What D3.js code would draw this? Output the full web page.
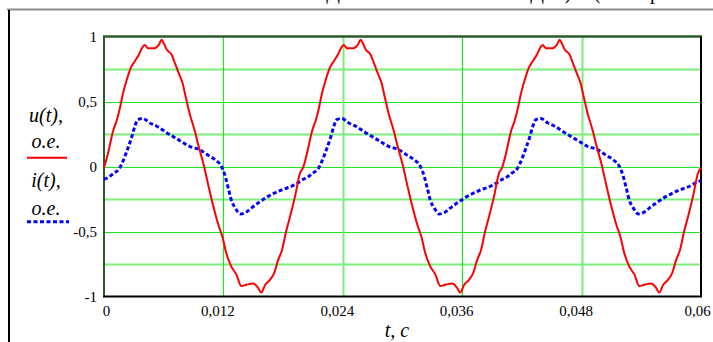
<!DOCTYPE html>
<html><head><meta charset="utf-8">
<script src="https://cdn.jsdelivr.net/npm/d3@7"></script>
<style>
html,body{margin:0;padding:0;background:#fff;}
svg{display:block;}
text{font-family:"Liberation Serif","Times New Roman",serif;fill:#000;}
</style></head>
<body>
<svg id="chart" width="713" height="342"></svg>
<script>
// ---- data ----
const tU = [
0.0000,0.0004,0.0009,0.0013,0.0016,0.0019,0.0023,0.0027,0.0031,0.0035,0.0039,0.0041,0.0044,0.0051,0.0055,0.0058,0.0060,0.0063,0.0068,0.0071,0.0075,0.0079,0.0082,0.0086,0.0091,0.0096,0.0100,0.0105,0.0110,0.0115,0.0119,0.0123,0.0128,0.0133,0.0138,0.0143,0.0150,0.0155,0.0158,0.0162,0.0167,0.0171,0.0175,0.0179,0.0183,0.0187,0.0192,0.0197,
0.0200,0.0204,0.0209,0.0213,0.0216,0.0219,0.0223,0.0227,0.0231,0.0235,0.0239,0.0241,0.0244,0.0251,0.0255,0.0258,0.0260,0.0263,0.0268,0.0271,0.0275,0.0279,0.0282,0.0286,0.0291,0.0296,0.0300,0.0305,0.0310,0.0315,0.0319,0.0323,0.0328,0.0333,0.0338,0.0343,0.0350,0.0355,0.0358,0.0362,0.0367,0.0371,0.0375,0.0379,0.0383,0.0387,0.0392,0.0397,
0.0400,0.0404,0.0409,0.0413,0.0416,0.0419,0.0423,0.0427,0.0431,0.0435,0.0439,0.0441,0.0444,0.0451,0.0455,0.0458,0.0460,0.0463,0.0468,0.0471,0.0475,0.0479,0.0482,0.0486,0.0491,0.0496,0.0500,0.0505,0.0510,0.0515,0.0519,0.0523,0.0528,0.0533,0.0538,0.0543,0.0550,0.0555,0.0558,0.0562,0.0567,0.0571,0.0575,0.0579,0.0583,0.0587,0.0592,0.0597,0.0600];
const uVals = [
-0.01,0.10,0.27,0.36,0.45,0.56,0.67,0.76,0.81,0.86,0.92,0.935,0.91,0.91,0.935,0.975,0.95,0.90,0.86,0.80,0.72,0.64,0.54,0.41,0.28,0.13,0.02,-0.15,-0.31,-0.45,-0.54,-0.67,-0.77,-0.83,-0.92,-0.91,-0.90,-0.935,-0.97,-0.91,-0.87,-0.82,-0.72,-0.64,-0.50,-0.385,-0.23,-0.05,
-0.01,0.10,0.27,0.36,0.45,0.56,0.67,0.76,0.81,0.86,0.92,0.935,0.91,0.91,0.935,0.975,0.95,0.90,0.86,0.80,0.72,0.64,0.54,0.41,0.28,0.13,0.02,-0.15,-0.31,-0.45,-0.54,-0.67,-0.77,-0.83,-0.92,-0.91,-0.90,-0.935,-0.97,-0.91,-0.87,-0.82,-0.72,-0.64,-0.50,-0.385,-0.23,-0.05,
-0.01,0.10,0.27,0.36,0.45,0.56,0.67,0.76,0.81,0.86,0.92,0.935,0.91,0.91,0.935,0.975,0.95,0.90,0.86,0.80,0.72,0.64,0.54,0.41,0.28,0.13,0.02,-0.15,-0.31,-0.45,-0.54,-0.67,-0.77,-0.83,-0.92,-0.91,-0.90,-0.935,-0.97,-0.91,-0.87,-0.82,-0.72,-0.64,-0.50,-0.385,-0.23,-0.05,-0.01];
const tI = [
0.0000,0.0005,0.0010,0.0015,0.0019,0.0024,0.0028,0.0031,0.0034,0.0039,0.0046,0.0053,0.0063,0.0075,0.0086,0.0096,0.0105,0.0112,0.0118,0.0122,0.0125,0.0128,0.0132,0.0137,0.0142,0.0148,0.0157,0.0165,0.0177,0.0189,0.0196,
0.0200,0.0205,0.0210,0.0215,0.0219,0.0224,0.0228,0.0231,0.0234,0.0239,0.0246,0.0253,0.0263,0.0275,0.0286,0.0296,0.0305,0.0312,0.0318,0.0322,0.0325,0.0328,0.0332,0.0337,0.0342,0.0348,0.0357,0.0365,0.0377,0.0389,0.0396,
0.0400,0.0405,0.0410,0.0415,0.0419,0.0424,0.0428,0.0431,0.0434,0.0439,0.0446,0.0453,0.0463,0.0475,0.0486,0.0496,0.0505,0.0512,0.0518,0.0522,0.0525,0.0528,0.0532,0.0537,0.0542,0.0548,0.0557,0.0565,0.0577,0.0589,0.0596,0.0600];
const iVals = [
-0.10,-0.08,-0.05,-0.02,0.04,0.14,0.23,0.31,0.36,0.37,0.335,0.31,0.26,0.205,0.155,0.13,0.085,0.05,0.00,-0.08,-0.17,-0.26,-0.32,-0.365,-0.355,-0.32,-0.27,-0.23,-0.185,-0.15,-0.12,
-0.10,-0.08,-0.05,-0.02,0.04,0.14,0.23,0.31,0.36,0.37,0.335,0.31,0.26,0.205,0.155,0.13,0.085,0.05,0.00,-0.08,-0.17,-0.26,-0.32,-0.365,-0.355,-0.32,-0.27,-0.23,-0.185,-0.15,-0.12,
-0.10,-0.08,-0.05,-0.02,0.04,0.14,0.23,0.31,0.36,0.37,0.335,0.31,0.26,0.205,0.155,0.13,0.085,0.05,0.00,-0.08,-0.17,-0.26,-0.32,-0.365,-0.355,-0.32,-0.27,-0.23,-0.185,-0.15,-0.12,-0.11];

const xTicks = [0, 0.012, 0.024, 0.036, 0.048, 0.06];
const xTickLabels = ["0", "0,012", "0,024", "0,036", "0,048", "0,06"];
const yTicks = [-1, -0.5, 0, 0.5, 1];
const yTickLabels = ["-1", "-0,5", "0", "0,5", "1"];
const yGrid = [-0.75, -0.5, -0.25, 0, 0.25, 0.5, 0.75];
const xGrid = [0.012, 0.024, 0.036, 0.048];
const legendLabels = [["u(t),", "o.e."], ["i(t),", "o.e."]];
const xTitle = "t, c";
const topFragments = [["Д", 333], ["Д", 537], [")", 568], ["(", 597], ["р", 655]];

// ---- drawing ----
const svg = d3.select("#chart");
const L = 104, R = 701, T = 36.5, B = 296.5;
const x = d3.scaleLinear().domain([0, 0.06]).range([L, R]);
const y = d3.scaleLinear().domain([-1, 1]).range([B, T]);

// page frame fragments
svg.selectAll("text.frag").data(topFragments).join("text")
  .attr("class","frag").attr("x", d => d[1]).attr("y", -1)
  .attr("text-anchor","middle").style("font-size","20px").text(d => d[0]);
svg.append("line").attr("x1",7).attr("x2",713).attr("y1",9.5).attr("y2",9.5)
  .attr("stroke","#8a8a8a").attr("stroke-width",2);
svg.append("line").attr("x1",9).attr("x2",9).attr("y1",10).attr("y2",342)
  .attr("stroke","#000").attr("stroke-width",2);

// grid
const minorY = v => Math.abs(Math.abs(v) - 0.5) > 0.1 && v !== 0;
svg.append("g").selectAll("line").data(yGrid).join("line")
  .attr("x1", L).attr("x2", R)
  .attr("y1", d => Math.round(y(d)) + 0.5).attr("y2", d => Math.round(y(d)) + 0.5)
  .attr("stroke", d => minorY(d) ? "#7ded7d" : "#1ee61e")
  .attr("stroke-width", d => minorY(d) ? 2 : 1.2);
svg.append("g").selectAll("line").data(xGrid).join("line")
  .attr("y1", T).attr("y2", B)
  .attr("x1", d => Math.round(x(d)) + 0.5).attr("x2", d => Math.round(x(d)) + 0.5)
  .attr("stroke", (d,i) => i % 2 ? "#7ded7d" : "#1ee61e")
  .attr("stroke-width", (d,i) => i % 2 ? 2 : 1.2);

// borders
svg.append("line").attr("x1",L-1).attr("x2",R+1).attr("y1",T).attr("y2",T).attr("stroke","#2b5a2b").attr("stroke-width",2.5);
svg.append("line").attr("x1",L).attr("x2",L).attr("y1",T).attr("y2",B).attr("stroke","#2b5a2b").attr("stroke-width",2);
svg.append("line").attr("x1",L-1).attr("x2",R+1).attr("y1",B).attr("y2",B).attr("stroke","#000").attr("stroke-width",2);
svg.append("line").attr("x1",R).attr("x2",R).attr("y1",T).attr("y2",B).attr("stroke","#000").attr("stroke-width",2);

// curves
const line = d3.line().x(d => x(d[0])).y(d => y(d[1])).curve(d3.curveMonotoneX);
svg.append("path").datum(tI.map((t,k) => [t, iVals[k]]))
  .attr("d", line).attr("fill","none").attr("stroke","#0000ff")
  .attr("stroke-width",3).attr("stroke-dasharray","4,2.5");
svg.append("path").datum(tU.map((t,k) => [t, uVals[k]]))
  .attr("d", line).attr("fill","none").attr("stroke","#ff0000")
  .attr("stroke-width",2);

// axes
const yAxis = d3.axisLeft(y).tickValues(yTicks).tickSize(0).tickPadding(7)
  .tickFormat((d,i) => yTickLabels[i]);
const gy = svg.append("g").attr("transform", `translate(${L},0)`).call(yAxis);
gy.select(".domain").remove();
gy.selectAll("text").style("font-size","15px").style("font-family",'"Liberation Serif",serif');

const xAxis = d3.axisBottom(x).tickValues(xTicks).tickSize(0).tickPadding(9)
  .tickFormat((d,i) => xTickLabels[i]);
const gx = svg.append("g").attr("transform", `translate(0,${B})`).call(xAxis);
gx.select(".domain").remove();
gx.selectAll("text").style("font-size","15px").style("font-family",'"Liberation Serif",serif')
  .attr("dx", (d,i) => i === 0 ? 2 : (i === xTicks.length - 1 ? -4 : -6));

// axis title
svg.append("text").attr("x", 397).attr("y", 337).attr("text-anchor","middle")
  .style("font-size","20px").style("font-style","italic").text(xTitle);

// legend
const legY = [[121.5, 148.3], [187, 215]];
legendLabels.forEach((lab, k) => {
  lab.forEach((s, j) => {
    svg.append("text").attr("x", 46).attr("y", legY[k][j]).attr("text-anchor","middle")
      .style("font-size","20px").style("font-style","italic").text(s);
  });
});
svg.append("line").attr("x1",27).attr("x2",67).attr("y1",157.7).attr("y2",157.7)
  .attr("stroke","#ff0000").attr("stroke-width",2);
svg.append("line").attr("x1",27).attr("x2",69).attr("y1",221.7).attr("y2",221.7)
  .attr("stroke","#0000ff").attr("stroke-width",3).attr("stroke-dasharray","4,2.5");
</script>
</body></html>
